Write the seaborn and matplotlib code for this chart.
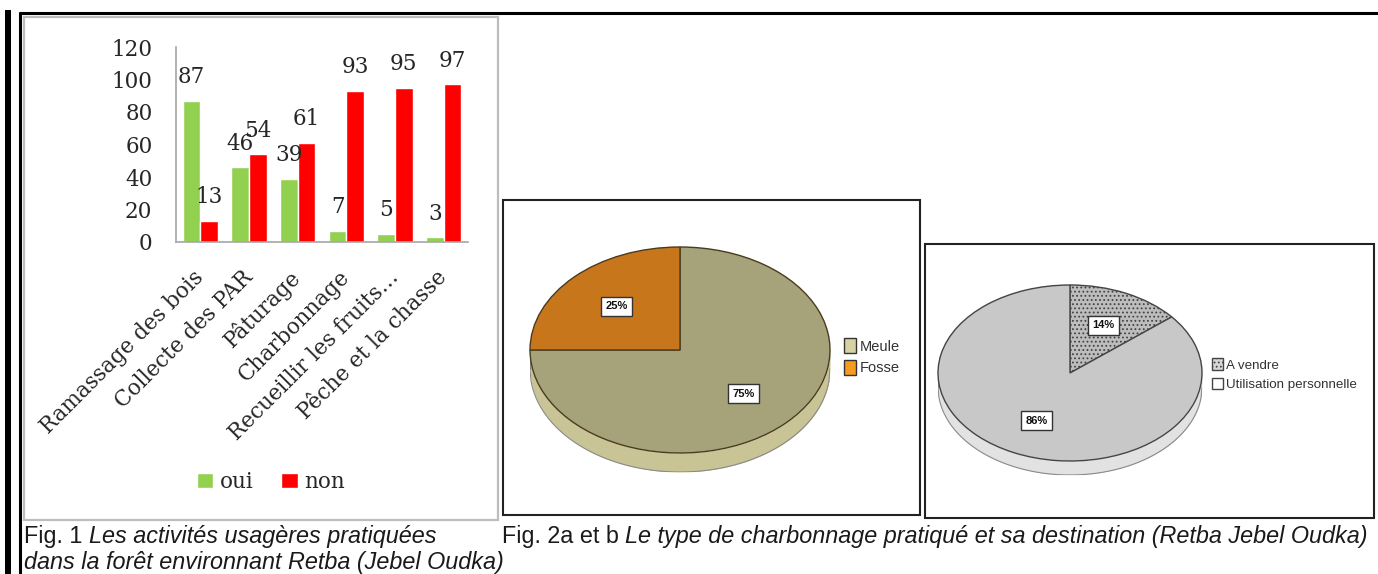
import matplotlib
matplotlib.use("Agg")
import matplotlib.pyplot as plt
import seaborn as sns
import pandas as pd
import numpy as np
from matplotlib.patches import Rectangle, Patch

# ---------------- data ----------------
categories = ["Ramassage des bois", "Collecte des PAR", "Pâturage",
              "Charbonnage", "Recueillir les fruits…", "Pêche et la chasse"]
oui = [87, 46, 39, 7, 5, 3]
non = [13, 54, 61, 93, 95, 97]
series = ["oui", "non"]
y_ticks = [0, 20, 40, 60, 80, 100, 120]

pie_a_labels = ["Meule", "Fosse"]
pie_a_values = [75, 25]
pie_b_labels = ["A vendre", "Utilisation personnelle"]
pie_b_values = [14, 86]

cap1_a = "Fig. 1 "
cap1_b = "Les activités usagères pratiquées"
cap1_c = "dans la forêt environnant Retba (Jebel Oudka)"
cap2_a = "Fig. 2a et b "
cap2_b = "Le type de charbonnage pratiqué et sa destination (Retba Jebel Oudka)"

# ---------------- style ----------------
sns.set_style("white")
plt.rcParams["font.family"] = ["DejaVu Sans"]
SERIF = ["DejaVu Serif"]
NARROW = ["Liberation Sans", "DejaVu Sans"]
SANS = ["Liberation Sans", "DejaVu Sans"]
TXT = "#262626"

W, H = 1378, 574
fig = plt.figure(figsize=(W / 100, H / 100), dpi=100)
fig.patch.set_facecolor("white")


def ax_px(left, top, right, bottom, **kw):
    a = fig.add_axes([left / W, 1 - bottom / H, (right - left) / W, (bottom - top) / H], **kw)
    a.patch.set_alpha(0)
    return a


# overlay for frames and captions
ov = ax_px(0, 0, W, H)
ov.set_xlim(0, W)
ov.set_ylim(H, 0)
ov.axis("off")
ov.set_zorder(-1)

ov.add_patch(Rectangle((5, 10), 6, H - 10, facecolor="black", edgecolor="none"))
ov.plot([19.5, 19.5], [12, H], color="black", lw=2.2, solid_capstyle="butt")
ov.plot([19, W], [12.5, 12.5], color="black", lw=2.2, solid_capstyle="butt")
ov.add_patch(Rectangle((24, 17), 474, 503, facecolor="white", edgecolor="#BDBDBD", lw=1.6))
ov.add_patch(Rectangle((503, 200), 417, 315, facecolor="white", edgecolor="#222222", lw=1.5))
ov.add_patch(Rectangle((925, 244), 449, 274, facecolor="white", edgecolor="#222222", lw=1.5))

# ---------------- Fig. 1 bar chart ----------------
df = pd.DataFrame({
    "cat": categories * 2,
    "val": oui + non,
    "serie": ["oui"] * len(oui) + ["non"] * len(non),
})
palette = {"oui": "#92D050", "non": "#FF0000"}
ax = ax_px(176, 47, 468, 242)
sns.barplot(data=df, x="cat", y="val", hue="serie", order=categories,
            hue_order=series, palette=palette, width=0.72, gap=0,
            saturation=1, legend=False, ax=ax)
ax.set_xlim(-0.5, len(categories) - 0.5)
ax.set_ylim(0, 120)
ax.set_yticks(y_ticks)
ax.set_yticklabels([str(v) for v in y_ticks], family=SERIF, fontsize=15.5, color=TXT)
ax.set_xticks(range(len(categories)))
ax.set_xticklabels(categories, rotation=45, ha="right", va="center",
                   rotation_mode="anchor", family=SERIF, fontsize=15.5, color=TXT)
ax.tick_params(axis="both", length=0)
ax.tick_params(axis="y", pad=17)
ax.tick_params(axis="x", pad=23)
ax.set_xlabel("")
ax.set_ylabel("")
for s in ["top", "right"]:
    ax.spines[s].set_visible(False)
for s in ["left", "bottom"]:
    ax.spines[s].set_color("#A6A6A6")
    ax.spines[s].set_linewidth(1.2)
for cont in ax.containers:
    ax.bar_label(cont, fmt="%d", padding=9, family=SERIF, fontsize=15.5, color=TXT)

fig.legend(handles=[Patch(facecolor=palette[s]) for s in series], labels=series,
           loc="center", bbox_to_anchor=(271 / W, 1 - 482 / H), ncol=2, frameon=False,
           handlelength=0.75, handleheight=0.75, handletextpad=0.3, columnspacing=1.3,
           prop={"family": SERIF, "size": 15.5}, labelcolor=TXT)


# ---------------- 3D-looking pies ----------------
def pie3d(axp, values, labels, colors, side_color, edge, depth, hatches=None,
          pctdist=0.6):
    xs = np.linspace(-1, 1, 300)
    lower = -np.sqrt(np.clip(1 - xs ** 2, 0, None))
    axp.fill_between(xs, lower - depth, lower, color=side_color, lw=0, zorder=0)
    axp.plot(xs, lower - depth, color="#8a8a8a", lw=0.8, zorder=0.5)
    axp.plot([-1, -1], [0, -depth], color="#8a8a8a", lw=0.8, zorder=0.5)
    axp.plot([1, 1], [0, -depth], color="#8a8a8a", lw=0.8, zorder=0.5)
    wedges, _, autot = axp.pie(values, colors=colors, startangle=90, counterclock=False,
                               autopct="%d%%", pctdistance=pctdist,
                               wedgeprops=dict(edgecolor=edge, linewidth=1.0))
    for w in wedges:
        w.set_clip_on(False)
        w.set_zorder(1)
    if hatches:
        for w, h in zip(wedges, hatches):
            if h:
                w.set_hatch(h)
    for t in autot:
        t.set_fontfamily(NARROW)
        t.set_fontweight("bold")
        t.set_fontsize(8)
        t.set_color("#111111")
        t.set_zorder(3)
        t.set_bbox(dict(boxstyle="square,pad=0.4", facecolor="white",
                        edgecolor="#333333", linewidth=1.0))
    axp.set_aspect("auto")
    axp.set_xlim(-1, 1)
    axp.set_ylim(-1 - depth, 1)
    axp.axis("off")
    return wedges


# Fig. 2a
pa = ax_px(530, 247, 830, 472)
pie3d(pa, pie_a_values, pie_a_labels, ["#A6A27A", "#C8761C"], "#C9C496",
      "#4a3b1e", 19 / 103)
fig.legend(handles=[Patch(facecolor="#D6D2A2", edgecolor="#333333"),
                    Patch(facecolor="#F39C1E", edgecolor="#333333")],
           labels=pie_a_labels, loc="upper left",
           bbox_to_anchor=(831 / W, 1 - 325 / H), frameon=False,
           handlelength=0.8, handleheight=1.2, handletextpad=0.25, labelspacing=0.45,
           prop={"family": NARROW, "size": 10.5}, labelcolor="#333333")

# Fig. 2b
plt.rcParams["hatch.color"] = "#6e6e6e"
plt.rcParams["hatch.linewidth"] = 0.8
pb = ax_px(938, 285, 1202, 475)
pie3d(pb, pie_b_values, pie_b_labels, ["#BDBDBD", "#C8C8C8"], "#E2E2E2",
      "#444444", 14 / 88, hatches=["....", None], pctdist=0.6)
fig.legend(handles=[Patch(facecolor="#D8D8D8", edgecolor="#444444", hatch="...."),
                    Patch(facecolor="white", edgecolor="#444444")],
           labels=pie_b_labels, loc="upper left",
           bbox_to_anchor=(1200 / W, 1 - 346 / H), frameon=False,
           handlelength=0.8, handleheight=1.0, handletextpad=0.25, labelspacing=0.45,
           prop={"family": NARROW, "size": 9.6}, labelcolor="#333333")

# ---------------- captions ----------------
renderer = fig.canvas.get_renderer()
CAPC = "#1a1a1a"


def caption(x, y, a, b, size):
    t1 = ov.text(x, y, a, family=SANS, fontsize=size, va="center", ha="left", color=CAPC)
    wa = t1.get_window_extent(renderer).width
    ov.text(x + wa, y, b, family=SANS, fontsize=size, style="italic", va="center",
            ha="left", color=CAPC)


caption(24, 536, cap1_a, cap1_b, 16.8)
ov.text(24, 562, cap1_c, family=SANS, fontsize=16.8, style="italic", va="center",
        ha="left", color=CAPC)
caption(502, 536, cap2_a, cap2_b, 16.8)

fig.savefig("out.png", dpi=100)
